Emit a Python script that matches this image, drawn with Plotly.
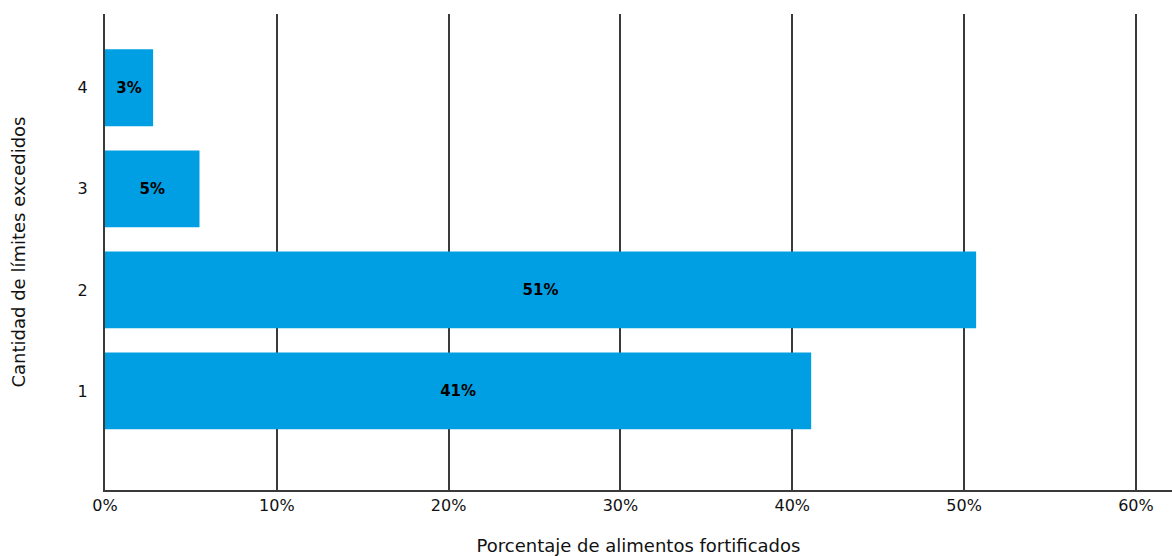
import plotly.graph_objects as go

categories = [1, 2, 3, 4]
values = [41.1, 50.7, 5.5, 2.8]
labels = ["41%", "51%", "5%", "3%"]
x_ticks = [0, 10, 20, 30, 40, 50, 60]
x_ticktext = ["0%", "10%", "20%", "30%", "40%", "50%", "60%"]

FONT = "DejaVu Sans"

fig = go.Figure()
fig.add_trace(go.Bar(
    y=categories, x=values, orientation="h",
    marker=dict(color="#009FE3", line=dict(width=0)),
    width=0.76,
    text=labels, textposition="inside", insidetextanchor="middle",
    textfont=dict(family=FONT, size=15, color="#000000", weight="bold"),
    cliponaxis=False,
))
fig.update_layout(
    width=1172, height=556,
    margin=dict(l=105, r=0, t=14, b=66),
    plot_bgcolor="white", paper_bgcolor="white",
    font=dict(family=FONT, size=16, color="#111111"),
    showlegend=False,
    xaxis=dict(
        range=[0, 62.1], tickvals=x_ticks, ticktext=x_ticktext,
        showgrid=True, gridcolor="#3a3a3a", gridwidth=1.5,
        showline=True, linecolor="#3a3a3a", linewidth=2,
        zeroline=False, ticks="", tickfont=dict(size=16),
        title=dict(text="Porcentaje de alimentos fortificados", standoff=26, font=dict(size=18)),
    ),
    yaxis=dict(
        range=[0.02, 4.73], tickvals=categories, ticktext=[str(c) for c in categories],
        showgrid=False, showline=True, linecolor="#3a3a3a", linewidth=2,
        zeroline=False, ticks="", ticklen=0, tickfont=dict(size=16),
        ticklabelstandoff=12,
        title=dict(text="Cantidad de límites excedidos", standoff=47, font=dict(size=18)),
    ),
)
fig.write_html("out.html")
